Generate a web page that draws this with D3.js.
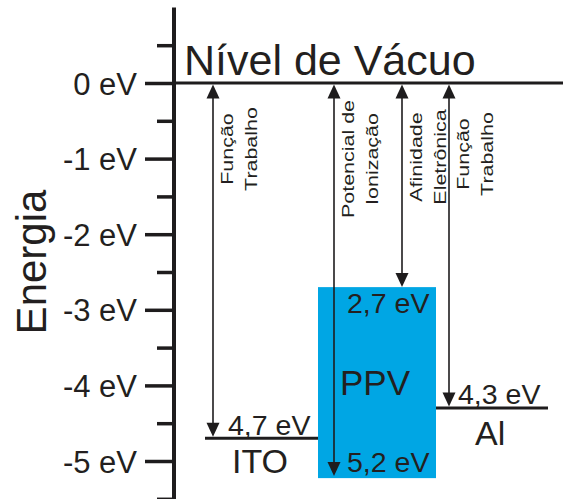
<!DOCTYPE html>
<html>
<head>
<meta charset="utf-8">
<script src="https://cdn.jsdelivr.net/npm/d3@7/dist/d3.min.js"></script>
<style>
  html, body { margin: 0; padding: 0; background: #ffffff; }
  svg { display: block; }
  text { font-family: "Liberation Sans", Arial, Helvetica, sans-serif; fill: #231f20; }
</style>
</head>
<body>
<script>
// ---- data ----
const majorTicks = [0, -1, -2, -3, -4, -5];
const majorTickLabels = ["0 eV", "-1 eV", "-2 eV", "-3 eV", "-4 eV", "-5 eV"];
const minorTicks = [0.5, -0.5, -1.5, -2.5, -3.5, -4.5, -5.5];
const axisTitle = "Energia";
const vacuumLabel = "Nível de Vácuo";

const itoWork = -4.7;
const ppvLumo = -2.7;
const ppvHomo = -5.2;
const alWork = -4.3;

const materialNames = ["ITO", "PPV", "Al"];
const levelLabels = ["4,7 eV", "2,7 eV", "5,2 eV", "4,3 eV"];
const arrowValues = [itoWork, ppvHomo, ppvLumo, alWork];
const arrowLabels = [
  ["Função", "Trabalho"],
  ["Potencial de", "Ionização"],
  ["Afinidade", "Eletrônica"],
  ["Função", "Trabalho"]
];

// ---- layout ----
const W = 563, H = 499;
const axisX = 174;
const svg = d3.select("body").append("svg").attr("width", W).attr("height", H);

const y = d3.scaleLinear().domain([0, -5]).range([83, 461]);
const ink = "#1e1c1d";

// axis line
svg.append("line")
  .attr("x1", axisX).attr("x2", axisX)
  .attr("y1", y(1)).attr("y2", H + 5)
  .attr("stroke", ink).attr("stroke-width", 4);

// major ticks with labels
const majorAxis = d3.axisLeft(y)
  .tickValues(majorTicks)
  .tickSize(29)
  .tickPadding(8)
  .tickFormat((d, i) => majorTickLabels[i]);
const gMaj = svg.append("g").attr("transform", `translate(${axisX},0)`).call(majorAxis);
gMaj.select(".domain").remove();
gMaj.selectAll(".tick line").attr("stroke", ink).attr("stroke-width", 3.5);
gMaj.selectAll(".tick text")
  .attr("fill", "#231f20")
  .style("font-size", "31px")
  .style("font-family", "'Liberation Sans', Arial, sans-serif")
  .attr("dy", "0.36em");

// minor ticks
const minorAxis = d3.axisLeft(y).tickValues(minorTicks).tickSize(17).tickFormat("");
const gMin = svg.append("g").attr("transform", `translate(${axisX},0)`).call(minorAxis);
gMin.select(".domain").remove();
gMin.selectAll(".tick line").attr("stroke", ink).attr("stroke-width", 3.5);

// axis title
svg.append("text")
  .attr("transform", `translate(46,${262}) rotate(-90)`)
  .attr("text-anchor", "middle")
  .style("font-size", "42px")
  .text(axisTitle);

// vacuum level
svg.append("line")
  .attr("x1", axisX).attr("x2", W)
  .attr("y1", y(0)).attr("y2", y(0))
  .attr("stroke", ink).attr("stroke-width", 3);
svg.append("text")
  .attr("x", 184).attr("y", 75)
  .style("font-size", "43px")
  .text(vacuumLabel);

// PPV box
const ppvX0 = 318, ppvX1 = 436;
svg.append("rect")
  .attr("x", ppvX0).attr("width", ppvX1 - ppvX0)
  .attr("y", y(ppvLumo)).attr("height", y(ppvHomo) - y(ppvLumo) + 2)
  .attr("fill", "#00a6e4");

// ITO and Al levels
svg.append("line")
  .attr("x1", 205).attr("x2", ppvX0)
  .attr("y1", y(itoWork)).attr("y2", y(itoWork))
  .attr("stroke", ink).attr("stroke-width", 3);
svg.append("line")
  .attr("x1", ppvX1).attr("x2", 548)
  .attr("y1", y(alWork)).attr("y2", y(alWork))
  .attr("stroke", ink).attr("stroke-width", 3);

// arrows
const arrowX = [213, 334, 402, 449];
const textCenters = [149, 159, 157, 154];
const headW = 6.5, headL = 14;
arrowValues.forEach((v, i) => {
  const x = arrowX[i];
  const yTop = y(0) + 1.5;
  let yBot = y(v) - (i === 0 || i === 3 ? 1.5 : 0);
  svg.append("line")
    .attr("x1", x).attr("x2", x)
    .attr("y1", yTop + headL - 2).attr("y2", yBot - headL + 2)
    .attr("stroke", ink).attr("stroke-width", 1.6);
  svg.append("path")
    .attr("d", `M${x},${yTop} L${x - headW},${yTop + headL} L${x + headW},${yTop + headL} Z`)
    .attr("fill", ink);
  svg.append("path")
    .attr("d", `M${x},${yBot} L${x - headW},${yBot - headL} L${x + headW},${yBot - headL} Z`)
    .attr("fill", ink);
  // rotated labels
  arrowLabels[i].forEach((t, j) => {
    const bx = x + 20 + j * 23.5;
    svg.append("text")
      .attr("transform", `translate(${bx},${textCenters[i]}) rotate(-90) scale(1.3,1)`)
      .attr("text-anchor", "middle")
      .style("font-size", "16.5px")
      .text(t);
  });
});

// level labels
const fs = "28.5px";
svg.append("text").attr("x", 228).attr("y", y(itoWork) - 3).style("font-size", fs).text(levelLabels[0]);
svg.append("text").attr("x", 347).attr("y", y(ppvLumo) + 26).style("font-size", fs).text(levelLabels[1]);
svg.append("text").attr("x", 347).attr("y", y(ppvHomo) - 4).style("font-size", fs).text(levelLabels[2]);
svg.append("text").attr("x", 458).attr("y", y(alWork) - 4).style("font-size", fs).text(levelLabels[3]);

// material names
svg.append("text").attr("x", 232).attr("y", 473).style("font-size", "34px").text(materialNames[0]);
svg.append("text").attr("x", 340).attr("y", 395).style("font-size", "35px").text(materialNames[1]);
svg.append("text").attr("x", 475).attr("y", 445).style("font-size", "34px").text(materialNames[2]);
</script>
</body>
</html>
